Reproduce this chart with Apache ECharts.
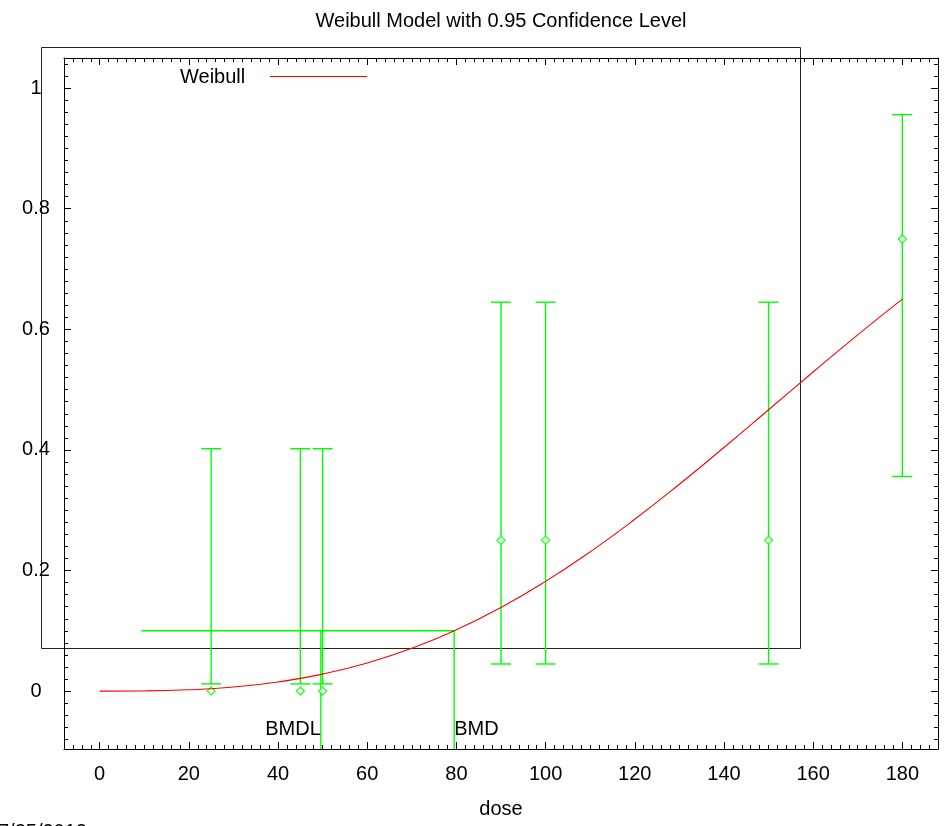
<!DOCTYPE html>
<html>
<head>
<meta charset="utf-8">
<script src="https://cdn.jsdelivr.net/npm/echarts@6/dist/echarts.min.js"></script>
<style>
html, body { margin: 0; padding: 0; background: #fff; }
#main { width: 945px; height: 826px; }
</style>
</head>
<body>
<div id="main"></div>
<script>
// observed dose groups, response and 95% interval
const doses = [25, 45, 50, 90, 100, 150, 180];
const responses = [0, 0, 0, 0.25, 0.25, 0.25, 0.75];
const ciLow = [0.012, 0.012, 0.012, 0.045, 0.045, 0.045, 0.356];
const ciHigh = [0.402, 0.402, 0.402, 0.645, 0.645, 0.645, 0.956];

// fitted Weibull curve
const curveDose = [0, 10, 20, 30, 40, 50, 60, 70, 80, 90, 100, 110, 120, 130, 140, 150, 160, 170, 180];
const curveResp = [0, 0.0003, 0.0022, 0.0068, 0.0152, 0.0282, 0.0466, 0.071, 0.1017, 0.1387, 0.182,
    0.231, 0.285, 0.3431, 0.4041, 0.4666, 0.5293, 0.5909, 0.65];

// benchmark dose lines
const bmrLevel = 0.1;
const bmrStart = 9.4;
const bmd = 79.5;
const bmdl = 49.6;
const bmdLabelY = -0.063;

const xTicks = [0, 20, 40, 60, 80, 100, 120, 140, 160, 180];
const yTicks = [0, 0.2, 0.4, 0.6, 0.8, 1];
const xMin = -8, xMax = 188;
const yMin = -0.096, yMax = 1.05;

const FONT = "'Liberation Sans', Arial, sans-serif";
const GREEN = '#00ff00';
const RED = '#ff0000';

let xMinor = [];
for (let v = -6; v <= xMax; v += 2) xMinor.push(v);
let yMinor = [];
for (let i = -4; i <= 52; i++) yMinor.push(Math.round(i * 2) / 100);

function makeAxis(pos, min, max, major, minor, isMajor, showLabel) {
    return {
        type: 'value',
        position: pos,
        min: min,
        max: max,
        axisLine: { show: isMajor, onZero: false, lineStyle: { color: '#000', width: 1 } },
        axisTick: {
            show: true,
            inside: true,
            length: isMajor ? 7 : 4,
            customValues: isMajor ? major : minor,
            lineStyle: { color: '#000', width: 1 }
        },
        axisLabel: {
            show: showLabel,
            customValues: major,
            color: '#000',
            fontFamily: FONT,
            fontSize: 20,
            formatter: function (v) { return String(Math.round(v * 100) / 100); }
        },
        splitLine: { show: false }
    };
}

let myChart = echarts.init(document.getElementById('main'));

let xBottom = makeAxis('bottom', xMin, xMax, xTicks, xMinor, true, true);
xBottom.axisLabel.margin = 15;
xBottom.name = 'dose';
xBottom.nameLocation = 'middle';
xBottom.nameGap = 50;
xBottom.nameTextStyle = { color: '#000', fontFamily: FONT, fontSize: 20 };

let yLeft = makeAxis('left', yMin, yMax, yTicks, yMinor, true, true);
yLeft.axisLabel.align = 'center';
yLeft.axisLabel.margin = 28;

let option = {
    animation: false,
    backgroundColor: '#fff',
    grid: { left: 64, top: 58, right: 7, bottom: 77, containLabel: false },
    xAxis: [
        xBottom,
        makeAxis('bottom', xMin, xMax, xTicks, xMinor, false, false),
        makeAxis('top', xMin, xMax, xTicks, xMinor, true, false),
        makeAxis('top', xMin, xMax, xTicks, xMinor, false, false)
    ],
    yAxis: [
        yLeft,
        makeAxis('left', yMin, yMax, yTicks, yMinor, false, false),
        makeAxis('right', yMin, yMax, yTicks, yMinor, true, false),
        makeAxis('right', yMin, yMax, yTicks, yMinor, false, false)
    ],
    graphic: {
        elements: [
            {
                type: 'rect', z: -1, silent: true,
                shape: { x: 41.5, y: 47.5, width: 759, height: 601 },
                style: { fill: null, stroke: '#222', lineWidth: 1 }
            },
            {
                type: 'text', x: 501, y: 21,
                style: {
                    text: 'Weibull Model with 0.95 Confidence Level', fill: '#000',
                    font: '20px ' + FONT, textAlign: 'center', textVerticalAlign: 'middle'
                }
            },
            {
                type: 'text', x: 180, y: 77,
                style: { text: 'Weibull', fill: '#000', font: '20px ' + FONT, textVerticalAlign: 'middle' }
            },
            {
                type: 'line', shape: { x1: 270, y1: 76.5, x2: 367, y2: 76.5 },
                style: { stroke: RED, lineWidth: 1 }
            },
            {
                type: 'text', x: -2, y: 822,
                style: { text: '7/25/2012', fill: '#000', font: '20px ' + FONT, textVerticalAlign: 'top' }
            }
        ]
    },
    series: [
        {
            name: 'Weibull',
            type: 'line',
            data: curveDose.map((d, i) => [d, curveResp[i]]),
            smooth: true,
            symbol: 'none',
            lineStyle: { color: RED, width: 1.1 },
            z: 5
        },
        {
            name: 'ci',
            type: 'custom',
            data: doses.map((d, i) => [d, ciLow[i], ciHigh[i]]),
            encode: { x: 0, y: [1, 2] },
            renderItem: function (params, api) {
                const x = api.value(0);
                const lo = api.coord([x, api.value(1)]);
                const hi = api.coord([x, api.value(2)]);
                const st = { stroke: GREEN, lineWidth: 1.4 };
                return {
                    type: 'group',
                    children: [
                        { type: 'line', shape: { x1: lo[0], y1: lo[1], x2: hi[0], y2: hi[1] }, style: st },
                        { type: 'line', shape: { x1: lo[0] - 10, y1: lo[1], x2: lo[0] + 10, y2: lo[1] }, style: st },
                        { type: 'line', shape: { x1: hi[0] - 10, y1: hi[1], x2: hi[0] + 10, y2: hi[1] }, style: st }
                    ]
                };
            },
            z: 3
        },
        {
            name: 'observed',
            type: 'scatter',
            data: doses.map((d, i) => [d, responses[i]]),
            symbol: 'diamond',
            symbolSize: 8,
            itemStyle: { color: '#fff', borderColor: GREEN, borderWidth: 1.4 },
            z: 4
        },
        {
            name: 'bmd',
            type: 'line',
            data: [[bmrStart, bmrLevel], [bmd, bmrLevel], [bmd, yMin]],
            symbol: 'none',
            lineStyle: { color: GREEN, width: 1.4 },
            z: 3
        },
        {
            name: 'bmdl',
            type: 'line',
            data: [[bmdl, bmrLevel], [bmdl, yMin]],
            symbol: 'none',
            lineStyle: { color: GREEN, width: 1.4 },
            z: 3
        },
        {
            name: 'bmdLabels',
            type: 'custom',
            data: [[bmdl, bmdLabelY], [bmd, bmdLabelY]],
            renderItem: function (params, api) {
                const p = api.coord([api.value(0), api.value(1)]);
                const isBmdl = params.dataIndex === 0;
                return {
                    type: 'text',
                    x: p[0], y: p[1],
                    style: {
                        text: isBmdl ? 'BMDL' : 'BMD',
                        fill: '#000', font: '20px ' + FONT,
                        textAlign: isBmdl ? 'right' : 'left',
                        textVerticalAlign: 'middle'
                    }
                };
            },
            z: 6
        }
    ]
};
myChart.setOption(option);
</script>
</body>
</html>
